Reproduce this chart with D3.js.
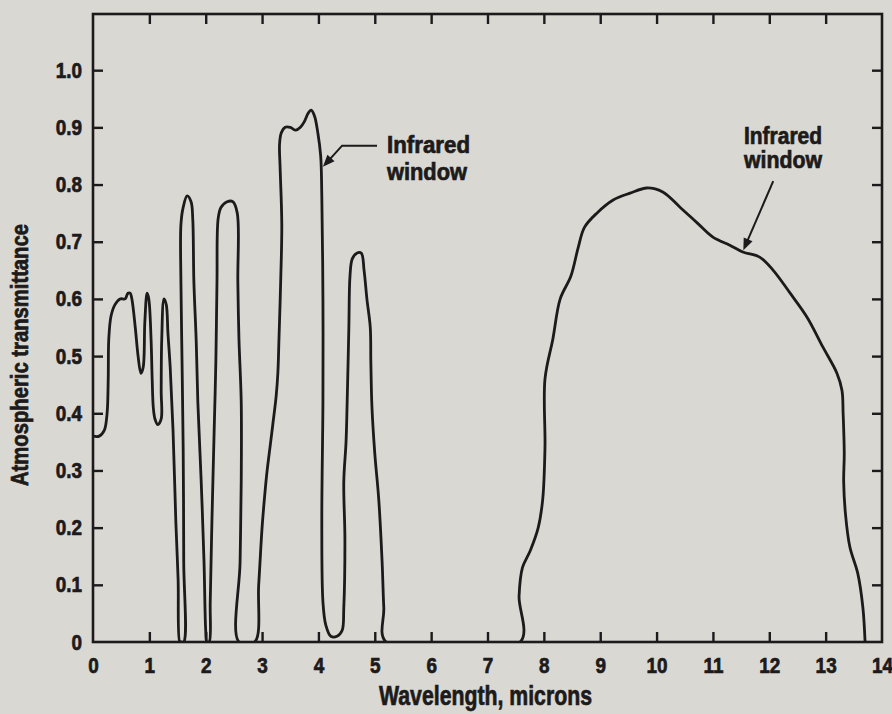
<!DOCTYPE html>
<html>
<head>
<meta charset="utf-8">
<script src="https://cdn.jsdelivr.net/npm/d3@7/dist/d3.min.js"></script>
<style>
  html, body { margin: 0; padding: 0; background: #dad8d3; }
  svg { display: block; }
  text { font-family: "Liberation Sans", Arial, sans-serif; font-weight: bold; fill: #1c1a1a;
         stroke: #1c1a1a; stroke-width: 0.7px; paint-order: stroke; }
</style>
</head>
<body>
<svg id="chart" width="892" height="714"></svg>
<script>
// Transmittance trace, traced as one continuous outline (wavelength in microns)
const wavelength = [
  0.00,0.11,0.20,0.25,0.27,0.28,0.32,0.39,0.48,0.57,0.62,0.66,0.69,0.75,0.80,0.85,0.89,0.92,0.96,0.99,
  1.03,1.05,1.07,1.10,1.15,1.21,1.21,1.22,1.26,1.30,1.33,1.37,1.42,1.47,1.51,1.54,
  1.56,1.61,1.61,1.60,1.58,1.56,1.56,1.60,1.67,1.74,1.77,1.79,1.83,1.86,1.92,1.97,2.00,2.02,
  2.06,2.08,2.11,2.15,2.18,2.20,2.22,2.27,2.38,2.48,2.56,2.57,2.59,2.63,2.63,2.61,2.59,
  2.87,2.94,3.00,3.05,3.09,3.14,3.19,3.25,3.28,3.30,3.33,3.35,3.32,3.31,3.34,3.41,3.50,3.60,3.68,3.75,
  3.82,3.87,3.93,3.99,4.04,4.06,4.08,4.08,4.06,4.08,4.13,4.22,4.33,4.42,4.45,4.47,4.45,4.49,4.51,4.54,
  4.56,4.60,4.68,4.76,4.81,4.86,4.92,4.93,4.95,5.00,5.07,5.13,5.16,5.20,
  7.58,7.56,7.62,7.76,7.90,7.98,8.02,8.02,8.16,8.29,8.48,8.61,8.72,8.94,9.23,9.53,9.83,10.11,10.42,10.72,
  11.00,11.30,11.53,11.83,12.07,12.37,12.67,12.95,13.20,13.29,13.31,13.33,13.32,13.35,13.43,13.57,13.66,13.70
];
const transmittance = [
  0.36,0.36,0.37,0.40,0.46,0.53,0.57,0.59,0.60,0.60,0.61,0.61,0.60,0.55,0.50,0.47,0.48,0.56,0.61,0.60,
  0.53,0.46,0.41,0.39,0.38,0.39,0.44,0.53,0.60,0.59,0.54,0.48,0.37,0.21,0.11,0.00,
  0.00,0.00,0.14,0.34,0.49,0.63,0.73,0.76,0.78,0.77,0.74,0.63,0.53,0.42,0.28,0.14,0.02,0.00,
  0.00,0.07,0.21,0.37,0.49,0.63,0.74,0.76,0.77,0.77,0.75,0.63,0.53,0.42,0.28,0.14,0.00,
  0.00,0.10,0.20,0.26,0.30,0.34,0.38,0.43,0.47,0.53,0.63,0.73,0.83,0.87,0.89,0.90,0.90,0.895,0.90,0.91,
  0.925,0.93,0.92,0.89,0.85,0.78,0.60,0.42,0.21,0.07,0.03,0.01,0.01,0.02,0.06,0.18,0.28,0.35,0.42,0.55,
  0.64,0.67,0.68,0.68,0.65,0.60,0.55,0.49,0.41,0.33,0.25,0.14,0.06,0.00,
  0.00,0.08,0.13,0.16,0.20,0.25,0.34,0.46,0.53,0.60,0.64,0.69,0.725,0.75,0.773,0.785,0.794,0.787,0.76,0.733,
  0.708,0.694,0.682,0.673,0.65,0.61,0.568,0.516,0.47,0.44,0.40,0.33,0.28,0.226,0.166,0.12,0.061,0.00
];

const xTicks = [0,1,2,3,4,5,6,7,8,9,10,11,12,13,14];
const yTicks = [0,0.1,0.2,0.3,0.4,0.5,0.6,0.7,0.8,0.9,1.0];
const xTitle = "Wavelength, microns";
const yTitle = "Atmospheric transmittance";
const calloutLines = ["Infrared", "window"];

const ink = "#1c1a1a";
const svg = d3.select("#chart");
const plotLeft = 93, plotRight = 882, plotTop = 13, plotBottom = 642;

const x = d3.scaleLinear().domain([0, 14]).range([plotLeft, plotRight]);
const y = d3.scaleLinear().domain([0, 1.1]).range([plotBottom, plotTop]);

// plot frame
svg.append("rect")
  .attr("x", plotLeft).attr("y", y(1.1) + 1)
  .attr("width", plotRight - plotLeft).attr("height", plotBottom - y(1.1) - 1)
  .attr("fill", "none").attr("stroke", ink).attr("stroke-width", 2.6);

function styleAxis(g) {
  g.select(".domain").remove();
  g.selectAll(".tick line").attr("stroke", ink).attr("stroke-width", 2.4);
}

// bottom axis with labels, ticks pointing inward
const gx = svg.append("g")
  .attr("transform", `translate(0,${plotBottom})`)
  .call(d3.axisBottom(x).tickValues(xTicks).tickSize(-10).tickPadding(15).tickFormat(d3.format("d")))
  .call(styleAxis);
gx.selectAll(".tick text")
  .attr("font-size", 22).attr("fill", ink)
  .attr("transform", "scale(0.86,1)");
gx.selectAll(".tick").filter(d => d === 0 || d === 14).select("line").remove();

// left axis with labels
const sxY = 0.86;
const gy = svg.append("g")
  .attr("transform", `translate(${plotLeft},0)`)
  .call(d3.axisLeft(y).tickValues(yTicks).tickSize(-10).tickPadding(11)
    .tickFormat(d => d === 0 ? "0" : d3.format(".1f")(d)))
  .call(styleAxis);
gy.selectAll(".tick text")
  .attr("font-size", 22).attr("fill", ink)
  .attr("x", -11 / sxY)
  .attr("transform", `scale(${sxY},1)`);
gy.selectAll(".tick").filter(d => d === 0).select("line").remove();

// top and right axes: inward ticks only
svg.append("g")
  .attr("transform", `translate(0,${y(1.1) + 1})`)
  .call(d3.axisTop(x).tickValues(xTicks.slice(1, -1)).tickSize(-10).tickFormat(""))
  .call(styleAxis);
svg.append("g")
  .attr("transform", `translate(${plotRight},0)`)
  .call(d3.axisRight(y).tickValues(yTicks.slice(1)).tickSize(-10).tickFormat(""))
  .call(styleAxis);

// transmittance curve
const pts = wavelength.map((w, i) => [w, transmittance[i]]);
svg.append("clipPath").attr("id", "plotClip")
  .append("rect").attr("x", plotLeft).attr("y", y(1.1)).attr("width", plotRight - plotLeft).attr("height", plotBottom - y(1.1));
const line = d3.line()
  .x(d => x(d[0])).y(d => y(d[1]))
  .curve(d3.curveCatmullRom.alpha(0.5));
svg.append("path")
  .datum(pts)
  .attr("clip-path", "url(#plotClip)")
  .attr("d", line)
  .attr("fill", "none")
  .attr("stroke", ink)
  .attr("stroke-width", 2.8)
  .attr("stroke-linejoin", "round");

// axis titles
svg.append("text")
  .attr("x", (x(0) + x(14)) / 2 - 2).attr("y", 705)
  .attr("text-anchor", "middle").attr("font-size", 27)
  .attr("textLength", 213).attr("lengthAdjust", "spacingAndGlyphs")
  .text(xTitle);
svg.append("text")
  .attr("transform", "translate(28,355) rotate(-90)")
  .attr("text-anchor", "middle").attr("font-size", 23)
  .attr("textLength", 262).attr("lengthAdjust", "spacingAndGlyphs")
  .text(yTitle);

// callouts
function arrowHead(tip, from, size) {
  const dx = tip[0] - from[0], dy = tip[1] - from[1];
  const len = Math.hypot(dx, dy), ux = dx / len, uy = dy / len;
  const bx = tip[0] - ux * size, by = tip[1] - uy * size;
  const px = -uy * size * 0.4, py = ux * size * 0.4;
  svg.append("path")
    .attr("d", `M${tip[0]},${tip[1]}L${bx + px},${by + py}L${bx - px},${by - py}Z`)
    .attr("fill", ink);
}
function callout(textX, baselines, widths, pathPts) {
  calloutLines.forEach((s, i) => {
    svg.append("text")
      .attr("x", textX).attr("y", baselines[i])
      .attr("font-size", 23)
      .attr("textLength", widths[i]).attr("lengthAdjust", "spacingAndGlyphs")
      .text(s);
  });
  const p = pathPts.map(d => [x(d[0]), y(d[1])]);
  const n = p.length;
  const tip = p[n - 1], prev = p[n - 2];
  // stop the shaft short of the tip so the head stays sharp
  const dx = tip[0] - prev[0], dy = tip[1] - prev[1], L = Math.hypot(dx, dy);
  const shaftEnd = [tip[0] - dx / L * 8, tip[1] - dy / L * 8];
  svg.append("path")
    .attr("d", d3.line()([...p.slice(0, -1), shaftEnd]))
    .attr("fill", "none").attr("stroke", ink).attr("stroke-width", 2);
  arrowHead(tip, prev, 12);
}

// 3.5-4 micron window callout
callout(387, [153, 180], [83, 80], [[5.04, 0.868], [4.42, 0.868], [4.08, 0.831]]);
// 8-13 micron window callout
callout(744, [144, 168], [78, 78], [[12.07, 0.806], [11.54, 0.685]]);
</script>
</body>
</html>
